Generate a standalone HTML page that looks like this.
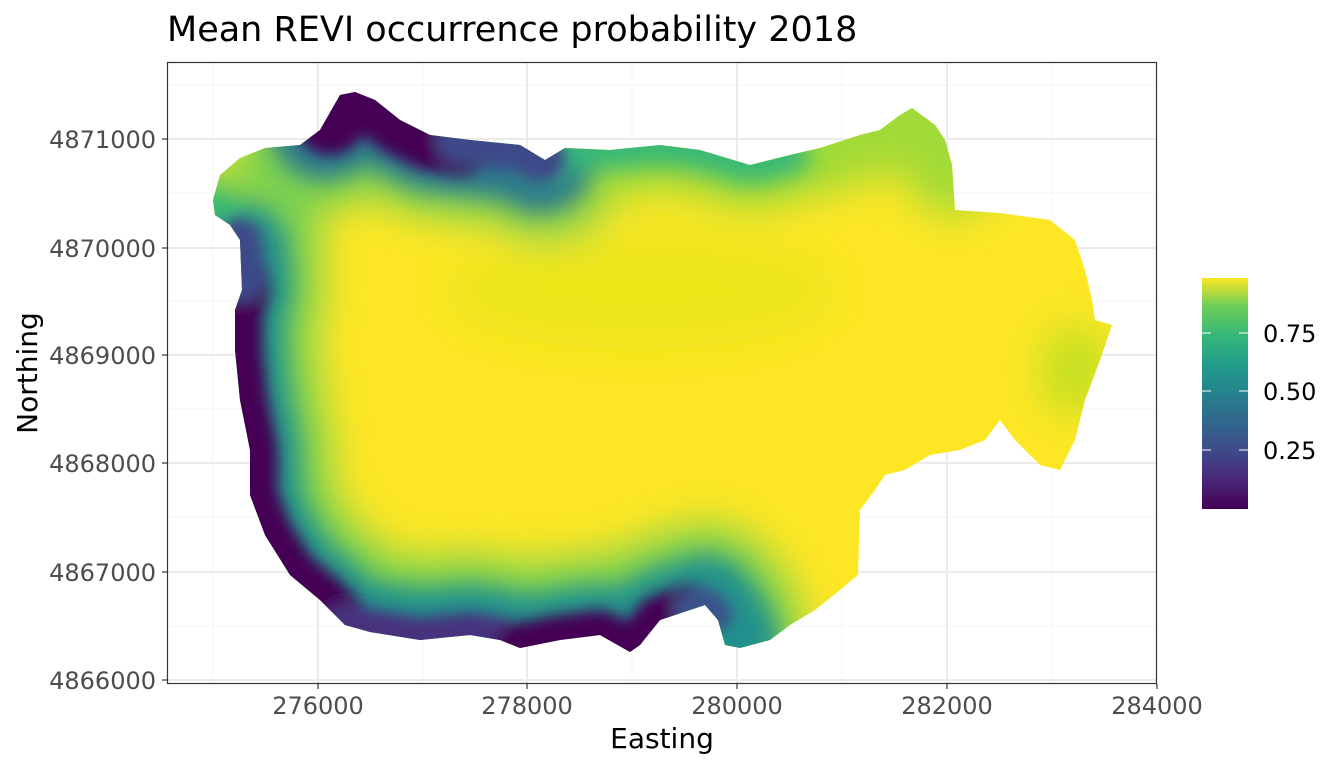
<!DOCTYPE html>
<html><head><meta charset="utf-8"><style>
html,body{margin:0;padding:0;background:#fff;}
svg{display:block;font-family:"DejaVu Sans","Liberation Sans",sans-serif;}
</style></head><body>
<svg width="1344" height="768" viewBox="0 0 1344 768">
<defs>
<clipPath id="shape"><polygon points="213,200 220,175 240,158 265,148 300,145 320,130 340,95 355,92 375,100 400,120 430,135 470,140 520,145 545,160 565,148 610,150 660,145 700,150 750,165 790,155 820,148 860,135 880,130 900,115 912,108 935,125 945,140 952,165 955,210 1000,213 1050,220 1075,240 1085,270 1092,300 1095,320 1112,325 1100,360 1085,400 1075,440 1060,470 1040,465 1015,440 1000,420 985,440 960,450 930,455 905,470 885,475 875,490 860,510 858,575 840,590 815,610 790,625 770,640 740,648 725,645 718,620 705,605 690,610 660,620 640,645 630,652 600,635 560,640 520,648 500,640 470,635 420,640 370,632 345,625 320,600 290,575 265,535 250,495 250,450 240,400 235,350 235,310 242,290 240,240 230,225 215,215"/></clipPath>
<filter id="b1" x="-50%" y="-50%" width="200%" height="200%"><feGaussianBlur stdDeviation="20"/></filter>
<filter id="b2" x="-50%" y="-50%" width="200%" height="200%"><feGaussianBlur stdDeviation="12"/></filter>
<filter id="b3" x="-50%" y="-50%" width="200%" height="200%"><feGaussianBlur stdDeviation="7"/></filter>
<linearGradient id="vir" x1="0" y1="1" x2="0" y2="0">
<stop offset="0" stop-color="#440154"/><stop offset="0.13" stop-color="#482878"/><stop offset="0.25" stop-color="#3e4a89"/><stop offset="0.38" stop-color="#31688e"/><stop offset="0.5" stop-color="#26828e"/><stop offset="0.63" stop-color="#1f9e89"/><stop offset="0.75" stop-color="#35b779"/><stop offset="0.88" stop-color="#6ece58"/><stop offset="1" stop-color="#fde725"/>
</linearGradient>
</defs>
<rect x="167" y="62" width="990" height="622" fill="#fff"/>
<g stroke="#f4f4f4" stroke-width="1">
<line x1="213" y1="62" x2="213" y2="684"/><line x1="423" y1="62" x2="423" y2="684"/><line x1="632" y1="62" x2="632" y2="684"/><line x1="842" y1="62" x2="842" y2="684"/><line x1="1052" y1="62" x2="1052" y2="684"/>
<line x1="167" y1="85" x2="1157" y2="85"/><line x1="167" y1="193" x2="1157" y2="193"/><line x1="167" y1="301" x2="1157" y2="301"/><line x1="167" y1="409" x2="1157" y2="409"/><line x1="167" y1="517" x2="1157" y2="517"/><line x1="167" y1="626" x2="1157" y2="626"/>
</g>
<g stroke="#ebebeb" stroke-width="2">
<line x1="318" y1="62" x2="318" y2="684"/><line x1="527" y1="62" x2="527" y2="684"/><line x1="737" y1="62" x2="737" y2="684"/><line x1="947" y1="62" x2="947" y2="684"/>
<line x1="167" y1="139" x2="1157" y2="139"/><line x1="167" y1="248" x2="1157" y2="248"/><line x1="167" y1="355" x2="1157" y2="355"/><line x1="167" y1="463" x2="1157" y2="463"/><line x1="167" y1="572" x2="1157" y2="572"/><line x1="167" y1="680" x2="1157" y2="680"/>
</g>
<g clip-path="url(#shape)" fill="none" stroke-linecap="round" stroke-linejoin="round">
<rect x="200" y="80" width="930" height="590" fill="#fde725"/>
<g filter="url(#b1)">
<ellipse cx="1075" cy="370" rx="35" ry="45" fill="#c2df23"/>
<ellipse cx="640" cy="290" rx="200" ry="60" fill="#e5e419" opacity="0.6"/>
<polyline stroke="#7ad151" stroke-width="160" points="240,240 242,290 235,310 235,350 240,400 250,450 250,495 265,535 290,575 320,600 345,625 370,632 420,640 470,635 500,640 520,648 560,640 600,635 630,652 640,645 660,620 690,610 705,605 718,620 725,645"/>
<polyline stroke="#7ad151" stroke-width="160" points="320,130 340,95 355,92 375,100 400,120 430,135 470,140 520,145 545,160"/>
<polyline stroke="#a0da39" stroke-width="90" points="545,160 565,148 610,150 660,145 700,150 750,165 790,155 820,148 860,135 880,130 900,115 912,108 935,125 945,140 952,170"/>
<polyline stroke="#a0da39" stroke-width="60" points="213,200 215,215 230,225"/>
</g>
<g filter="url(#b2)">
<polyline stroke="#21918c" stroke-width="100" points="238,250 242,290 235,310 235,350 240,400 250,450 250,495 265,535 290,575 320,600 345,625 370,632 420,640 470,635 500,640 520,648 560,640 600,635 630,652 640,645 660,620 690,610 705,605 718,620 728,640"/>
<polyline stroke="#2a788e" stroke-width="110" points="325,125 340,95 355,92 375,100 400,120 430,135 470,140 520,145 540,158"/>
<polyline stroke="#35b779" stroke-width="40" points="545,160 565,148 610,150 660,145 700,150 750,165 790,155"/>
<polyline stroke="#35b779" stroke-width="40" points="213,205 220,220 235,232"/>
</g>
<g filter="url(#b3)">
<polyline stroke="#440154" stroke-width="55" points="240,275 242,290 235,310 235,350 240,400 250,450 250,495 265,535 290,575 320,600 340,620"/>
<polyline stroke="#3e4a89" stroke-width="45" points="240,240 242,280"/>
<polyline stroke="#46337e" stroke-width="45" points="345,625 370,632 420,640 470,635 500,640 520,648"/>
<polyline stroke="#440154" stroke-width="50" points="520,648 560,640 600,635 630,652 640,645 660,620 690,610"/>
<polyline stroke="#3b528b" stroke-width="35" points="690,610 705,605 715,615"/>
<polyline stroke="#440154" stroke-width="70" points="330,120 340,95 355,92 375,100 400,120 430,135 460,140"/>
<polyline stroke="#3e4a89" stroke-width="50" points="460,140 520,145 540,158"/>
</g>
</g>
<rect x="167.5" y="62.5" width="989" height="621" fill="none" stroke="#333" stroke-width="1.2"/>
<g stroke="#333" stroke-width="1.2">
<line x1="318" y1="684" x2="318" y2="689"/><line x1="527" y1="684" x2="527" y2="689"/><line x1="737" y1="684" x2="737" y2="689"/><line x1="947" y1="684" x2="947" y2="689"/><line x1="1157" y1="684" x2="1157" y2="689"/>
<line x1="162" y1="139" x2="167" y2="139"/><line x1="162" y1="248" x2="167" y2="248"/><line x1="162" y1="355" x2="167" y2="355"/><line x1="162" y1="463" x2="167" y2="463"/><line x1="162" y1="572" x2="167" y2="572"/><line x1="162" y1="680" x2="167" y2="680"/>
</g>
<g fill="#4d4d4d" font-size="24" text-anchor="middle">
<text x="318" y="714">276000</text><text x="527" y="714">278000</text><text x="737" y="714">280000</text><text x="947" y="714">282000</text><text x="1157" y="714">284000</text>
</g>
<g fill="#4d4d4d" font-size="24" text-anchor="end">
<text x="156" y="148">4871000</text><text x="156" y="257">4870000</text><text x="156" y="364">4869000</text><text x="156" y="472">4868000</text><text x="156" y="581">4867000</text><text x="156" y="689">4866000</text>
</g>
<text x="662" y="748" font-size="28" text-anchor="middle" fill="#000">Easting</text>
<text transform="translate(37,373) rotate(-90)" font-size="28" text-anchor="middle" fill="#000">Northing</text>
<text x="167" y="41" font-size="35" fill="#000">Mean REVI occurrence probability 2018</text>
<rect x="1202" y="278" width="46" height="231" fill="url(#vir)"/>
<g stroke="#fff" stroke-width="1">
<line x1="1202" y1="333" x2="1211" y2="333"/><line x1="1239" y1="333" x2="1248" y2="333"/>
<line x1="1202" y1="391" x2="1211" y2="391"/><line x1="1239" y1="391" x2="1248" y2="391"/>
<line x1="1202" y1="450" x2="1211" y2="450"/><line x1="1239" y1="450" x2="1248" y2="450"/>
</g>
<g font-size="24" fill="#000">
<text x="1263" y="342">0.75</text><text x="1263" y="400">0.50</text><text x="1263" y="459">0.25</text>
</g>
</svg>
</body></html>
